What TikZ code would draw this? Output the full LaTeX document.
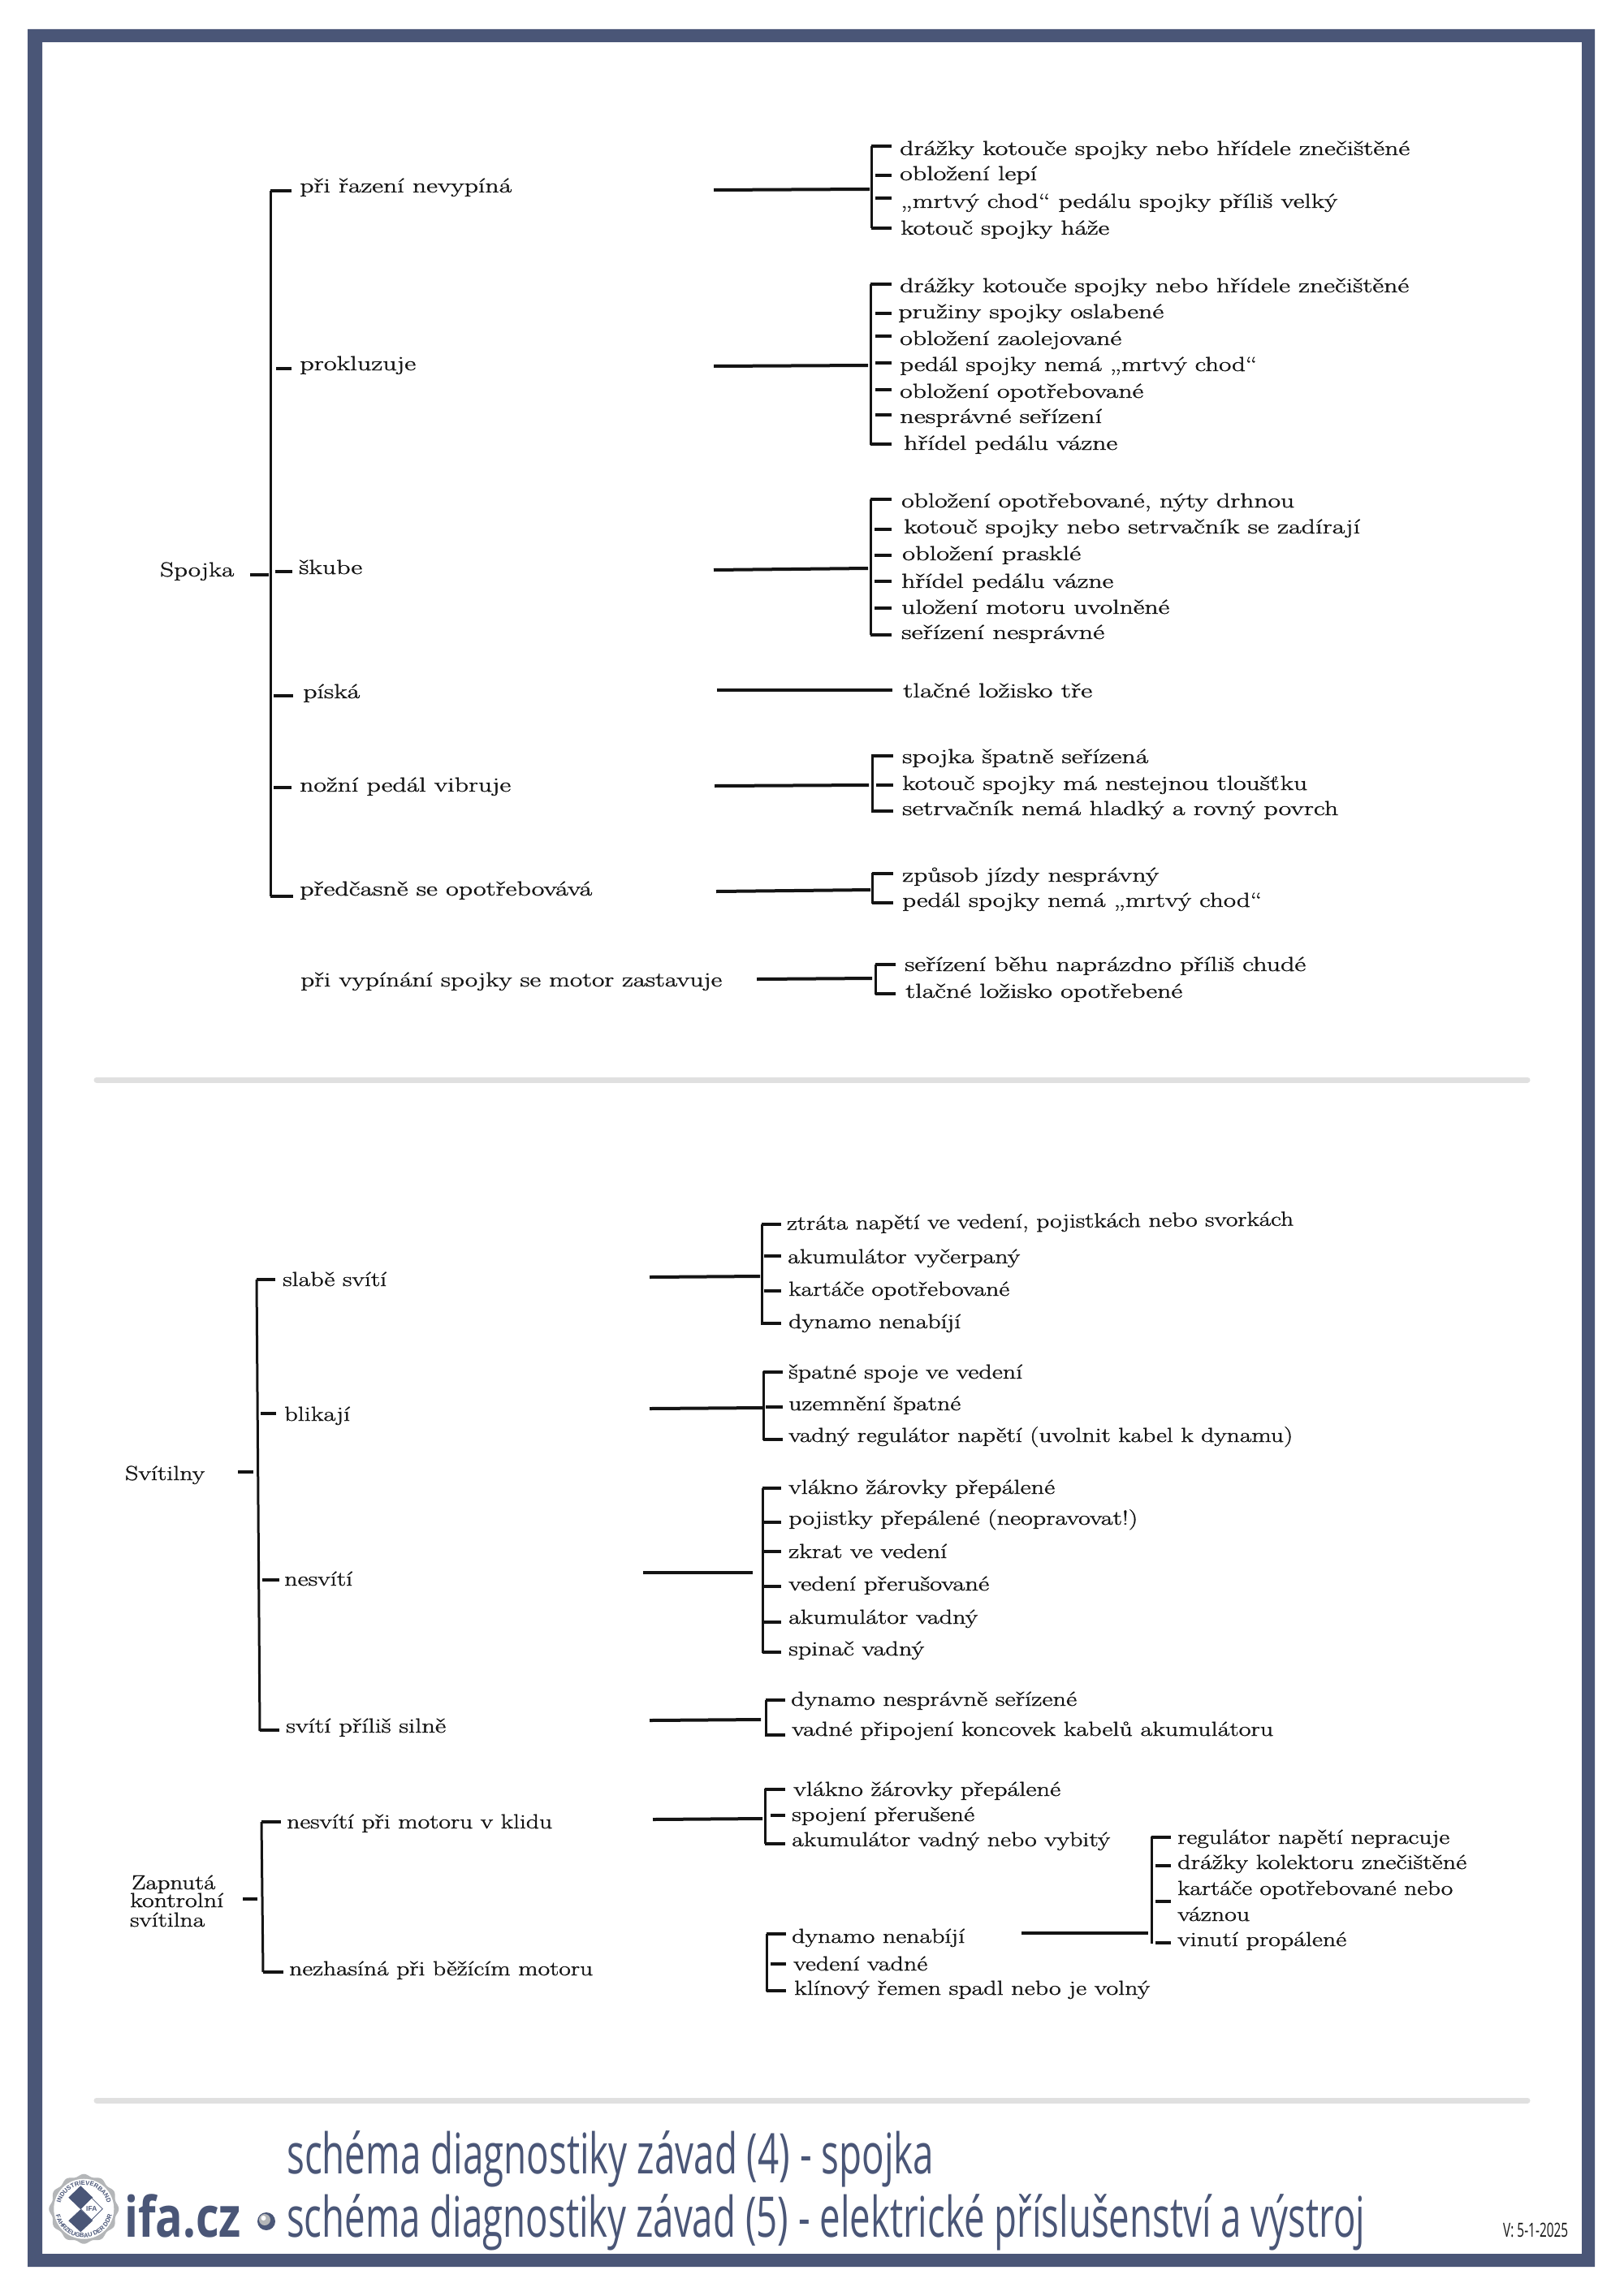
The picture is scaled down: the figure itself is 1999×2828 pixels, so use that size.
\documentclass[tikz,border=0pt]{standalone}
\usepackage{fontspec}
\usepackage{graphicx}
\usetikzlibrary{decorations.text}
\setmainfont{Latin Modern Roman}[FakeBold=1.2]
\newfontfamily\titlefont[FakeStretch=0.7]{Open Sans}
\newfontfamily\brandfont{Open Sans}
\newfontfamily\sealfont{Liberation Sans}
\definecolor{framecol}{HTML}{4A5677}
\definecolor{rulecol}{HTML}{E0E0E0}
\definecolor{inkcol}{HTML}{141414}
\definecolor{sealgrey}{HTML}{B4B6B8}
% text set to a measured width
\newcommand\fitw[2]{\sbox0{#2}\pgfmathsetmacro\fitf{#1/\wd0}\scalebox{\fitf}[1]{\usebox0}}
\newcommand\lab[5]{\pgfmathsetmacro\fitt{#3-#2}\node[bodytext] (#1) at (#2,#4) {\fitw{\fitt}{#5}};}
% bracket spine, tick and long connector, each between two named ends
\newcommand\spn[4]{\coordinate (#1-a) at (#2,#3);\coordinate (#1-b) at (#2,#4);\draw[spine] (#1-a) -- (#1-b);}
\newcommand\tk[4]{\coordinate (#1-a) at (#2,#4);\coordinate (#1-b) at (#3,#4);\draw[tickline] (#1-a) -- (#1-b);}
\newcommand\lng[5]{\coordinate (#1-a) at (#2,#3);\coordinate (#1-b) at (#4,#5);\draw[longline] (#1-a) -- (#1-b);}
\tikzset{
  bodytext/.style={anchor=base west,inner sep=0pt,text=inkcol,font=\fontsize{25}{30}\selectfont},
  spine/.style={draw=inkcol,line width=3pt,line cap=butt},
  mainspine/.style={draw=inkcol,line width=3pt},
  tickline/.style={draw=inkcol,line width=4pt},
  longline/.style={draw=inkcol,line width=4pt},
  titletext/.style={anchor=base west,inner sep=0pt,text=framecol,font=\titlefont\fontsize{69}{80}\selectfont},
}
\begin{document}
\begin{tikzpicture}[x=1pt,y=-1pt]
\useasboundingbox (0,0) rectangle (1999,2828);
\fill[white] (0,0) rectangle (1999,2828);
\fill[framecol,even odd rule] (34,36) rectangle (1964,2792) (52,52) rectangle (1948,2776);
\draw[rulecol,line width=7pt,line cap=round] (119,1330) coordinate (rule1a) -- (1881,1330) coordinate (rule1b);
\draw[rulecol,line width=7pt,line cap=round] (119,2587) coordinate (rule2a) -- (1881,2587) coordinate (rule2b);

% ===== Spojka =====
\lab{spojka}{197}{288}{710}{Spojka}
\tk{spojkaT}{308}{331}{708}
\spn{sp}{333}{235}{1104}
\tk{t1}{333}{359}{235}
\tk{t2}{340}{359}{454}
\tk{t3}{339}{360}{704}
\tk{t4}{337}{361}{857}
\tk{t5}{337}{359}{970}
\tk{t6}{333}{361}{1104}
\lab{l1}{369}{630}{237}{při řazení nevypíná}
\lab{l2}{369}{512}{456}{prokluzuje}
\lab{l3}{368}{446}{707}{škube}
\lab{l4}{373}{443}{860}{píská}
\lab{l5}{369}{629}{975}{nožní pedál vibruje}
\lab{l6}{369}{729}{1103}{předčasně se opotřebovává}
\lab{l7}{370}{889}{1215}{při vypínání spojky se motor zastavuje}

\lng{c1}{879}{234}{1071}{233}
\spn{a}{1073}{180}{281}
\tk{a1}{1073}{1098}{180}\tk{a2}{1078}{1098}{216}\tk{a3}{1078}{1098}{244}\tk{a4}{1073}{1098}{281}
\lab{a1t}{1108}{1736}{191}{drážky kotouče spojky nebo hřídele znečištěné}
\lab{a2t}{1108}{1277}{222}{obložení lepí}
\lab{a3t}{1109}{1647}{256}{„mrtvý chod“ pedálu spojky příliš velký}
\lab{a4t}{1109}{1366}{289}{kotouč spojky háže}

\lng{c2}{879}{451}{1069}{450}
\spn{b}{1072}{350}{548}
\tk{b1}{1072}{1098}{350}\tk{b2}{1078}{1098}{386}\tk{b3}{1078}{1098}{414}\tk{b4}{1078}{1098}{447}\tk{b5}{1078}{1098}{480}\tk{b6}{1078}{1098}{511}\tk{b7}{1072}{1098}{547}
\lab{b1t}{1108}{1735}{360}{drážky kotouče spojky nebo hřídele znečištěné}
\lab{b2t}{1106}{1433}{392}{pružiny spojky oslabené}
\lab{b3t}{1108}{1381}{425}{obložení zaolejované}
\lab{b4t}{1108}{1548}{457}{pedál spojky nemá „mrtvý chod“}
\lab{b5t}{1108}{1408}{490}{obložení opotřebované}
\lab{b6t}{1108}{1357}{521}{nesprávné seřízení}
\lab{b7t}{1113}{1376}{554}{hřídel pedálu vázne}

\lng{c3}{879}{702}{1069}{700}
\spn{c}{1072}{615}{782}
\tk{c1t}{1072}{1098}{615}\tk{c2t}{1077}{1098}{652}\tk{c3t}{1077}{1098}{684}\tk{c4t}{1077}{1098}{716}\tk{c5t}{1077}{1098}{749}\tk{c6t}{1072}{1098}{782}
\lab{c1l}{1110}{1594}{625}{obložení opotřebované, nýty drhnou}
\lab{c2l}{1113}{1675}{657}{kotouč spojky nebo setrvačník se zadírají}
\lab{c3l}{1111}{1331}{690}{obložení prasklé}
\lab{c4l}{1110}{1371}{724}{hřídel pedálu vázne}
\lab{c5l}{1110}{1440}{756}{uložení motoru uvolněné}
\lab{c6l}{1110}{1360}{787}{seřízení nesprávné}

\lng{c4}{883}{850}{1099}{850}
\lab{d1t}{1112}{1345}{859}{tlačné ložisko tře}

\lng{c5}{880}{968}{1070}{967}
\spn{e}{1074}{929}{1001}
\tk{e1}{1074}{1100}{931}\tk{e2}{1079}{1100}{967}\tk{e3}{1074}{1100}{999}
\lab{e1t}{1111}{1414}{940}{spojka špatně seřízená}
\lab{e2t}{1111}{1610}{973}{kotouč spojky má nestejnou tloušťku}
\lab{e3t}{1111}{1648}{1004}{setrvačník nemá hladký a rovný povrch}

\lng{c6}{882}{1098}{1072}{1096}
\spn{f}{1074}{1075}{1113}
\tk{f1}{1074}{1100}{1076}\tk{f2}{1074}{1100}{1112}
\lab{f1t}{1111}{1427}{1086}{způsob jízdy nesprávný}
\lab{f2t}{1111}{1554}{1117}{pedál spojky nemá „mrtvý chod“}

\lng{c7}{932}{1206}{1074}{1205}
\spn{g}{1078}{1188}{1225}
\tk{g1}{1078}{1103}{1188}\tk{g2}{1078}{1103}{1224}
\lab{g1t}{1114}{1608}{1196}{seřízení běhu naprázdno příliš chudé}
\lab{g2t}{1115}{1456}{1229}{tlačné ložisko opotřebené}

% ===== Svítilny =====
\lab{svit}{154}{252}{1823}{Svítilny}
\tk{svitT}{293}{312}{1813}
\coordinate (sv-a) at (316,1576);\coordinate (sv-b) at (320,2132);
\draw[mainspine] (sv-a) -- (sv-b);
\tk{s1}{316}{339}{1576}\tk{s2}{321}{340}{1741}\tk{s3}{323}{344}{1946}\tk{s4}{320}{344}{2131}
\lab{s1t}{348}{476}{1584}{slabě svítí}
\lab{s2t}{350}{431}{1750}{blikají}
\lab{s3t}{350}{434}{1953}{nesvítí}
\lab{s4t}{352}{549}{2134}{svítí příliš silně}

\lng{k1}{800}{1573}{936}{1572}
\spn{h}{938}{1508}{1632}
\tk{h1}{938}{962}{1508}\tk{h2}{941}{962}{1547}\tk{h3}{941}{962}{1590}\tk{h4}{938}{962}{1630}
\node[bodytext,rotate=0.5] (h1t) at (969,1515) {\fitw{624}{ztráta napětí ve vedení, pojistkách nebo svorkách}};
\lab{h2t}{970}{1256}{1556}{akumulátor vyčerpaný}
\lab{h3t}{971}{1243}{1596}{kartáče opotřebované}
\lab{h4t}{971}{1183}{1636}{dynamo nenabíjí}

\lng{k2}{800}{1735}{939}{1734}
\spn{i}{940}{1689}{1774}
\tk{i1}{940}{964}{1690}\tk{i2}{943}{964}{1733}\tk{i3}{940}{964}{1773}
\lab{i1t}{971}{1259}{1698}{špatné spoje ve vedení}
\lab{i2t}{971}{1183}{1737}{uzemnění špatné}
\lab{i3t}{971}{1592}{1776}{vadný regulátor napětí (uvolnit kabel k dynamu)}

\lng{k3}{792}{1937}{927}{1937}
\spn{j}{939}{1833}{2036}
\tk{j1}{939}{962}{1833}\tk{j2}{941}{962}{1875}\tk{j3}{941}{962}{1911}\tk{j4}{941}{962}{1954}\tk{j5}{941}{962}{1998}\tk{j6}{939}{962}{2035}
\lab{j1t}{971}{1299}{1840}{vlákno žárovky přepálené}
\lab{j2t}{971}{1401}{1878}{pojistky přepálené (neopravovat!)}
\lab{j3t}{971}{1166}{1919}{zkrat ve vedení}
\lab{j4t}{971}{1218}{1959}{vedení přerušované}
\lab{j5t}{971}{1204}{2000}{akumulátor vadný}
\lab{j6t}{971}{1138}{2039}{spinač vadný}

\lng{k4}{800}{2119}{937}{2118}
\spn{m}{943}{2094}{2139}
\tk{m1}{943}{967}{2094}\tk{m2}{943}{967}{2137}
\lab{m1t}{974}{1326}{2101}{dynamo nesprávně seřízené}
\lab{m2t}{975}{1568}{2138}{vadné připojení koncovek kabelů akumulátoru}

% ===== Zapnutá kontrolní svítilna =====
\lab{z1}{162}{265}{2327}{Zapnutá}
\lab{z2}{160}{275}{2349}{kontrolní}
\lab{z3}{160}{252}{2373}{svítilna}
\tk{zT}{299}{317}{2339}
\coordinate (zs-a) at (322,2244);\coordinate (zs-b) at (324,2429);
\draw[mainspine] (zs-a) -- (zs-b);
\tk{z1b}{322}{346}{2244}\tk{z2b}{324}{349}{2429}
\lab{z1t}{353}{680}{2252}{nesvítí při motoru v klidu}
\lab{z2t}{356}{730}{2433}{nezhasíná při běžícím motoru}

\lng{n1}{804}{2241}{939}{2240}
\spn{o}{942}{2203}{2271}
\tk{o1}{942}{967}{2204}\tk{o2}{949}{967}{2236}\tk{o3}{942}{967}{2271}
\lab{o1t}{977}{1306}{2212}{vlákno žárovky přepálené}
\lab{o2t}{975}{1200}{2243}{spojení přerušené}
\lab{o3t}{975}{1367}{2274}{akumulátor vadný nebo vybitý}

\spn{p}{944}{2382}{2453}
\tk{p1}{944}{968}{2382}\tk{p2}{949}{968}{2419}\tk{p3}{944}{968}{2452}
\lab{p1t}{975}{1188}{2393}{dynamo nenabíjí}
\lab{p2t}{977}{1142}{2427}{vedení vadné}
\lab{p3t}{978}{1416}{2457}{klínový řemen spadl nebo je volný}

\lng{n2}{1258}{2381}{1414}{2381}
\spn{q}{1418}{2262}{2394}
\tk{q1}{1418}{1442}{2263}\tk{q2}{1423}{1442}{2298}\tk{q3}{1423}{1442}{2342}\tk{q4}{1423}{1442}{2393}
\lab{q1t}{1450}{1785}{2271}{regulátor napětí nepracuje}
\lab{q2t}{1450}{1806}{2302}{drážky kolektoru znečištěné}
\lab{q3t}{1450}{1789}{2334}{kartáče opotřebované nebo}
\lab{q4t}{1450}{1539}{2366}{váznou}
\lab{q5t}{1450}{1658}{2397}{vinutí propálené}

% ===== Footer =====
\node[titletext] (title1) at (353,2677) {\fitw{797}{schéma diagnostiky závad (4) - spojka}};
\node[titletext] (title2) at (353,2755) {\fitw{1328}{schéma diagnostiky závad (5) - elektrické příslušenství a výstroj}};
\node[anchor=base west,inner sep=0pt,text=inkcol,font=\titlefont\fontsize{24}{28}\selectfont] (version) at (1851,2755) {\fitw{80}{V: 5-1-2025}};
\node[anchor=base west,inner sep=0pt,text=framecol,font=\brandfont\bfseries\fontsize{69}{80}\selectfont] (brand) at (153,2755) {\fitw{144}{ifa.cz}};
% bullet
\fill[framecol] (328,2736) circle[radius=11];
\fill[sealgrey] (326,2734) circle[radius=7];
\fill[white] (324.5,2732) circle[radius=3];
% seal
\begin{scope}[shift={(103.3,2720.7)},x=1pt,y=1pt]
  \fill[sealgrey] plot[domain=0:360,samples=145,smooth] (\x:{41.5+1.5*cos(12*\x)});
  \fill[white] (0,0) circle[radius=37];
  \fill[framecol] (-4,28.5) -- (11,14) -- (-4,-0.5) -- (-19,14) -- cycle;
  \fill[framecol] (-4,-0.5) -- (11,-14.5) -- (-4,-28.5) -- (-19,-14.5) -- cycle;
  \filldraw[fill=white,draw=framecol,line width=0.8pt] (9.5,13.5) -- (23,0) -- (9.5,-13.5) -- (-4,0) -- cycle;
  \node[inner sep=0pt,text=framecol,font=\sealfont\bfseries\fontsize{8.5}{10}\selectfont] (sealifa) at (9.5,0) {IFA};
  \path[decorate,decoration={text along path,text align=center,text color=framecol,
     text={|\sealfont\bfseries\fontsize{7.6}{9}\selectfont|INDUSTRIEVERBAND}}]
     (168:29.5) arc[start angle=168,end angle=12,radius=29.5];
  \path[decorate,decoration={text along path,text align=center,text color=framecol,
     text={|\sealfont\bfseries\fontsize{7.6}{9}\selectfont|FAHRZEUGBAU DER DDR}}]
     (-175:35.5) arc[start angle=-175,end angle=-5,radius=35.5];
\end{scope}
\end{tikzpicture}
\end{document}
